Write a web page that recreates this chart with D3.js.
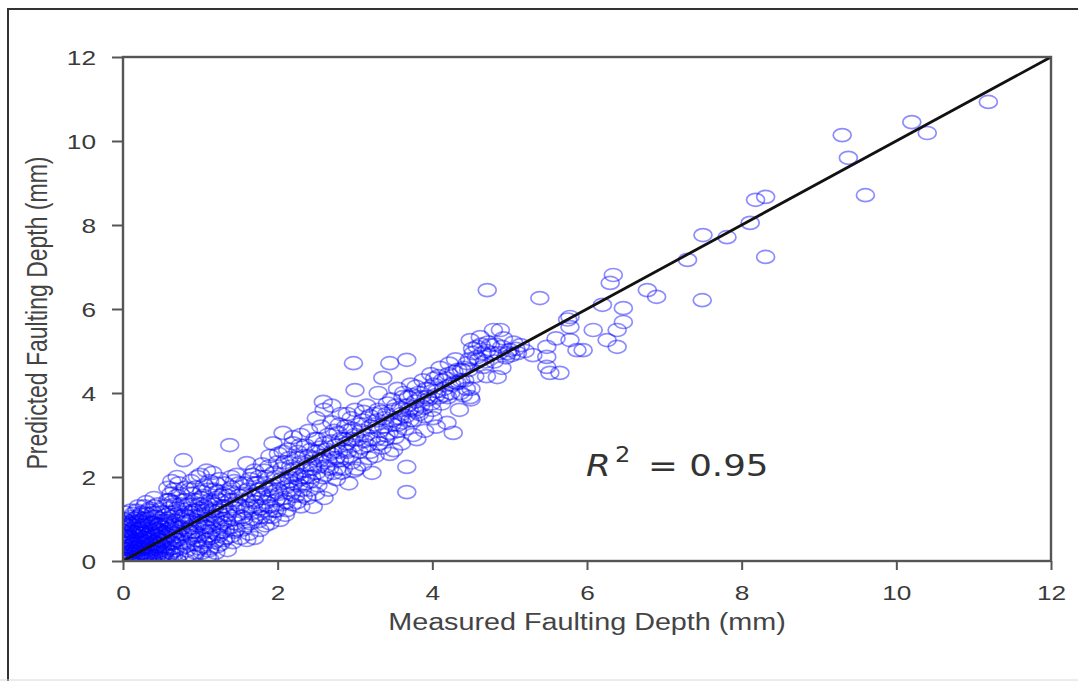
<!DOCTYPE html>
<html>
<head>
<meta charset="utf-8">
<script src="https://cdn.jsdelivr.net/npm/d3@7"></script>
<style>
  html, body { margin: 0; padding: 0; background: #fff; }
  svg { display: block; }
</style>
</head>
<body>
<svg id="chart" width="1078" height="681"></svg>
<script>
// ---------- data: [measured, predicted] in mm ----------
const pointsNearOrigin = [
  [0.02,0.05],[0.02,0.2],[0.03,0.35],[0.02,0.5],[0.04,0.65],[0.03,0.8],[0.05,0.95],[0.02,0.12],[0.05,0.28],[0.06,0.42],
  [0.08,0.05],[0.1,0.18],[0.09,0.3],[0.1,0.55],[0.12,0.7],[0.1,0.88],[0.11,1.05],[0.13,0.4],[0.14,0.15],[0.15,0.02],
  [0.18,0.25],[0.2,0.1],[0.19,0.45],[0.2,0.6],[0.22,0.78],[0.2,0.95],[0.23,1.1],[0.25,0.32],[0.24,0.5],[0.26,0.0],
  [0.3,0.15],[0.28,0.68],[0.3,0.85],[0.32,1.0],[0.33,1.2],[0.35,0.4],[0.34,0.55],[0.36,0.25],[0.38,0.05],[0.4,0.72],
  [0.4,0.9],[0.42,1.05],[0.41,1.3],[0.44,0.35],[0.45,0.5],[0.46,0.18],[0.48,0.62],[0.5,0.8],[0.5,1.15],[0.52,0.95],
  [0.05,0.1],[0.07,0.6],[0.12,0.25],[0.16,0.5],[0.17,0.85],[0.21,0.35],[0.27,0.2],[0.29,0.45],[0.31,0.6],[0.37,0.8],
  [0.39,0.3],[0.43,0.1],[0.47,0.4],[0.06,0.75],[0.15,0.3],[0.25,0.65],[0.33,0.12],[0.45,0.95],[0.08,1.0],[0.18,1.2],
  [0.28,1.3],[0.01,0.6],[0.01,0.9],[0.04,0.15],[0.09,0.45],[0.14,0.62],[0.22,0.18],[0.3,0.35],[0.36,0.7],[0.44,0.75],
  [0.0,0.3],[0.0,0.7],[0.0,1.0],[0.03,1.15],[0.06,0.22],[0.07,0.48],[0.08,0.82],[0.11,0.1],[0.12,0.38],[0.13,0.95],
  [0.14,0.78],[0.16,0.08],[0.17,0.22],[0.18,0.68],[0.19,1.05],[0.21,0.52],[0.22,0.9],[0.23,0.28],[0.24,0.05],[0.26,0.78],
  [0.27,1.0],[0.28,0.42],[0.29,0.12],[0.3,0.55],[0.31,1.12],[0.32,0.3],[0.33,0.75],[0.34,0.92],[0.35,0.08],[0.36,0.5],
  [0.37,1.05],[0.38,0.65],[0.39,0.2],[0.4,0.45],[0.41,0.82],[0.42,0.28],[0.43,0.6],[0.44,1.15],[0.46,0.72],[0.47,0.88],
  [0.48,0.25],[0.49,0.5],[0.5,0.08],[0.51,0.35],[0.52,0.68],[0.53,1.3],[0.54,0.2],[0.55,0.85],[0.56,1.1],[0.57,0.4],
  [0.58,0.62],[0.59,0.12],[0.6,0.5],[0.61,0.78],[0.62,1.05],[0.63,0.3],[0.64,1.4],[0.66,0.15],[0.67,0.58],[0.69,0.95],
  [0.1,1.2],[0.2,1.3],[0.3,1.4],[0.4,1.5],[0.15,1.0],[0.25,1.15],[0.35,1.25],[0.45,1.35],[0.05,0.55],[0.12,0.85],
  [0.01,0.05],[0.01,0.4],[0.03,0.58],[0.04,0.85],[0.06,0.05],[0.07,0.35],[0.09,0.7],[0.1,0.02],[0.11,0.5],[0.13,0.22],
  [0.15,0.45],[0.16,0.7],[0.17,0.1],[0.19,0.32],[0.21,0.75],[0.22,0.05],[0.23,0.42],[0.25,0.2],[0.26,0.55],[0.27,0.85],
  [0.29,0.3],[0.31,0.05],[0.32,0.48],[0.34,0.2],[0.35,0.65],[0.37,0.38],[0.38,0.9],[0.4,0.12],[0.41,0.58],[0.43,0.42],
  [0.45,0.22],[0.46,0.85],[0.48,0.05],[0.49,0.72],[0.51,0.48],[0.53,0.15],[0.54,0.58],[0.56,0.25],[0.58,0.95],[0.6,0.05],
  [0.62,0.7],[0.64,0.42],[0.65,0.85],[0.67,0.25],[0.68,0.5],[0.02,0.72],[0.07,0.9],[0.13,1.12],[0.24,0.95],[0.39,1.15]
];
const pointsLowBand = [
  [0.55,0.05],[0.55,0.3],[0.56,0.55],[0.58,0.75],[0.57,1.0],[0.6,1.25],[0.58,1.45],[0.58,1.74],[0.62,0.2],[0.63,0.45],
  [0.65,0.65],[0.66,0.9],[0.68,1.1],[0.67,1.35],[0.7,1.55],[0.7,0.02],[0.72,0.35],[0.74,0.58],[0.75,0.8],[0.76,1.0],
  [0.78,1.22],[0.78,2.4],[0.8,1.74],[0.8,1.45],[0.8,0.02],[0.82,0.25],[0.84,0.5],[0.85,0.7],[0.86,0.95],[0.88,1.15],
  [0.9,1.35],[0.9,1.6],[0.92,0.1],[0.94,0.4],[0.95,0.62],[0.96,0.85],[0.98,1.05],[1.0,1.25],[1.0,2.05],[1.0,1.5],
  [1.02,0.2],[1.04,0.45],[1.05,0.7],[1.06,0.92],[1.08,1.12],[1.09,0.1],[1.1,1.35],[1.1,1.7],[1.12,0.3],[1.14,0.55],
  [1.15,0.8],[1.16,1.0],[1.16,2.1],[1.18,1.25],[1.2,1.5],[1.2,1.85],[1.22,0.35],[1.24,0.6],[1.25,0.85],[1.26,1.1],
  [1.28,1.3],[1.3,1.6],[1.3,0.5],[1.32,0.75],[1.34,0.95],[1.35,0.26],[1.36,1.2],[1.38,1.45],[1.38,2.76],[1.4,1.75],
  [1.4,2.0],[1.42,0.45],[1.44,0.7],[1.45,0.9],[1.46,1.1],[1.47,2.05],[1.48,1.35],[1.5,1.55],[1.5,1.85],[1.52,0.55],
  [0.6,0.9],[0.65,1.15],[0.7,0.5],[0.75,1.35],[0.85,1.25],[0.9,0.8],[0.95,1.2],[1.0,0.9],[1.05,1.3],[1.1,0.6],
  [1.15,1.2],[1.2,0.9],[1.25,1.45],[1.3,1.0],[1.35,1.55],[1.45,1.25],[0.62,1.6],[0.72,1.85],[0.88,1.9],[1.05,1.8],
  [1.25,1.95],[1.12,0.05],[1.2,0.2],[0.98,0.3],[0.9,0.55],[0.68,0.8],[0.82,1.05],[1.08,0.8],[1.28,0.7],[1.42,1.0],
  [0.7,1.25],[0.71,0.7],[0.73,0.15],[0.74,1.05],[0.76,0.45],[0.77,0.65],[0.79,0.9],[0.8,1.1],[0.81,0.35],[0.83,0.75],
  [0.84,1.35],[0.85,0.15],[0.87,0.6],[0.88,0.4],[0.89,1.0],[0.91,1.2],[0.92,0.7],[0.93,1.45],[0.94,0.2],[0.96,0.5],
  [0.97,0.95],[0.99,1.35],[1.0,0.6],[1.01,1.1],[1.03,0.35],[1.04,1.55],[1.06,0.82],[1.07,1.2],[1.08,0.5],[1.1,1.0],
  [1.11,0.25],[1.13,1.45],[1.14,0.7],[1.17,1.35],[1.18,0.45],[1.19,1.05],[1.21,0.65],[1.22,1.65],[1.23,1.2],[1.26,0.4],
  [1.27,1.55],[1.29,0.9],[1.31,1.3],[1.33,0.55],[1.35,1.1],[1.37,0.8],[1.39,1.65],[1.41,0.6],[1.43,1.45],[1.46,0.75],
  [0.6,1.45],[0.66,1.7],[0.74,1.6],[0.86,1.7],[0.94,1.75],[1.02,1.65],[1.12,1.9],[1.18,1.7],[1.32,1.85],[1.44,1.9],
  [0.63,1.9],[0.7,2.0],[0.96,2.0],[1.08,2.15]
];
const pointsMidBand = [
  [1.55,0.75],[1.56,1.0],[1.58,1.2],[1.6,0.5],[1.6,2.33],[1.6,1.45],[1.62,1.7],[1.64,1.95],[1.65,0.9],[1.68,1.15],
  [1.7,1.4],[1.7,2.15],[1.72,1.6],[1.74,1.85],[1.75,0.95],[1.77,0.74],[1.78,1.25],[1.8,1.5],[1.8,2.3],[1.82,1.75],
  [1.85,2.0],[1.86,1.05],[1.88,1.3],[1.9,1.55],[1.9,2.5],[1.92,1.8],[1.94,2.8],[1.95,2.1],[1.96,1.2],[1.98,1.45],
  [2.0,1.7],[2.0,2.35],[2.03,0.98],[2.05,1.95],[2.06,2.2],[2.07,3.05],[2.07,2.6],[2.08,1.5],[2.1,1.75],[2.12,1.21],
  [2.14,2.0],[2.15,2.45],[2.18,1.6],[2.2,2.8],[2.2,1.85],[2.22,2.2],[2.25,1.4],[2.26,2.6],[2.28,1.95],[2.3,2.35],
  [2.32,1.7],[2.35,2.15],[2.36,2.75],[2.38,1.5],[2.4,2.5],[2.42,1.9],[2.45,2.3],[2.46,1.29],[2.48,2.9],[2.5,2.1],
  [2.5,2.6],[2.52,1.8],[2.55,2.4],[2.56,3.2],[2.58,2.0],[2.59,3.79],[2.6,2.8],[2.62,2.25],[2.65,3.0],[2.66,1.7],
  [2.68,2.55],[2.7,3.3],[2.72,2.1],[2.75,2.75],[2.76,1.95],[2.78,3.05],[2.8,2.4],[2.82,3.5],[2.85,2.2],[2.86,2.9],
  [2.88,3.2],[2.9,2.6],[2.92,1.85],[2.95,3.4],[2.96,2.35],[2.98,2.75],[3.0,3.0],[3.0,4.07],[3.0,3.6],[2.98,4.71],
  [1.55,1.6],[1.65,1.3],[1.75,1.7],[1.85,1.4],[1.95,1.65],[2.05,1.35],[2.15,1.9],[2.25,2.05],[2.35,1.85],[2.45,2.2],
  [2.55,2.7],[2.65,2.4],[2.75,2.45],[2.85,2.65],[2.95,2.9],[1.7,0.55],[1.9,0.9],[2.1,1.1],[2.3,1.3],[2.6,1.5],
  [1.52,1.3],[1.54,1.05],[1.57,1.85],[1.59,0.85],[1.61,1.25],[1.63,0.65],[1.66,1.55],[1.67,2.05],[1.69,1.0],[1.71,1.85],
  [1.73,1.3],[1.76,2.0],[1.78,1.05],[1.79,1.6],[1.81,1.2],[1.83,2.15],[1.84,0.85],[1.87,1.7],[1.89,2.25],[1.91,1.3],
  [1.93,1.05],[1.97,2.0],[1.99,1.2],[2.01,2.55],[2.02,1.6],[2.04,1.85],[2.09,2.35],[2.11,1.4],[2.13,2.65],[2.16,1.7],
  [2.17,2.25],[2.19,1.35],[2.21,2.05],[2.23,1.55],[2.24,2.45],[2.27,1.8],[2.29,2.75],[2.31,2.0],[2.33,1.55],[2.34,2.5],
  [2.37,2.0],[2.39,2.3],[2.41,1.7],[2.43,2.65],[2.44,2.0],[2.47,2.45],[2.49,1.6],[2.51,2.9],[2.53,2.25],[2.57,2.5],
  [2.61,2.05],[2.63,2.65],[2.67,2.2],[2.69,2.85],[2.71,2.6],[2.73,3.1],[2.77,2.2],[2.79,2.6],[2.81,2.9],[2.83,2.1],
  [2.87,2.45],[2.89,2.8],[2.91,3.1],[2.93,2.5],[2.97,3.15],[2.99,2.15],[2.4,3.1],[2.3,3.0],[2.2,2.95],[2.5,3.4],
  [2.6,3.6],[2.7,3.7],[2.8,3.25],[2.9,3.5]
];
const pointsHighBand = [
  [3.02,2.2],[3.05,2.6],[3.08,3.1],[3.1,3.35],[3.12,2.85],[3.15,3.7],[3.18,2.45],[3.2,3.2],[3.22,2.1],[3.25,3.5],
  [3.28,2.9],[3.3,4.0],[3.32,3.1],[3.35,2.7],[3.36,4.36],[3.38,3.4],[3.4,3.0],[3.42,3.75],[3.45,4.71],[3.45,2.55],
  [3.48,3.25],[3.5,2.64],[3.5,3.6],[3.52,2.95],[3.55,4.1],[3.58,3.4],[3.6,3.5],[3.6,2.8],[3.62,3.9],[3.65,3.15],
  [3.67,4.79],[3.67,2.24],[3.67,1.64],[3.68,3.7],[3.7,3.6],[3.72,4.2],[3.75,3.35],[3.78,3.8],[3.8,2.9],[3.8,3.55],
  [3.82,4.0],[3.85,3.7],[3.88,4.3],[3.9,3.45],[3.92,4.1],[3.95,3.85],[3.98,4.45],[4.0,3.6],[4.01,3.4],[4.02,4.2],
  [4.05,3.95],[4.08,4.4],[4.1,4.6],[4.12,3.75],[4.15,4.1],[4.18,4.35],[4.19,3.29],[4.2,3.9],[4.22,4.7],[4.25,4.2],
  [4.27,3.05],[4.28,4.5],[4.3,4.8],[4.32,4.24],[4.35,3.6],[4.36,4.0],[4.38,4.55],[4.4,3.95],[4.42,4.3],[4.45,4.71],
  [4.49,3.9],[4.5,4.1],[4.5,3.85],[3.55,3.1],[3.75,3.0],[3.9,3.1],[4.05,3.2],[3.3,3.6],[3.2,2.6],[3.1,2.3],
  [3.03,2.9],[3.06,3.25],[3.09,2.7],[3.11,3.55],[3.14,3.0],[3.16,2.75],[3.19,3.45],[3.21,2.9],[3.24,3.25],[3.26,2.5],
  [3.29,3.35],[3.31,2.8],[3.34,3.55],[3.37,3.2],[3.39,2.9],[3.41,3.5],[3.44,3.05],[3.47,3.85],[3.49,3.35],[3.53,3.7],
  [3.56,3.25],[3.59,3.65],[3.61,3.3],[3.63,4.0],[3.66,3.45],[3.69,3.9],[3.71,3.35],[3.74,3.95],[3.77,3.6],[3.79,4.15],
  [3.83,3.5],[3.86,3.9],[3.89,3.65],[3.93,3.9],[3.96,4.1],[3.99,3.75],[4.03,4.35],[4.06,4.05],[4.09,3.9],[4.13,4.3],
  [4.16,3.95],[4.21,4.45],[4.24,4.0],[4.29,4.25],[4.33,4.55],[4.37,4.3],[4.41,4.6],[4.44,4.1],[4.47,4.55],[4.48,4.8]
];
const pointsUpper = [
  [4.53,4.95],[4.62,5.33],[4.49,5.26],[4.66,4.62],[4.75,5.14],[4.79,5.5],[4.88,5.5],[4.84,4.38],[4.71,6.45],[5.0,5.02],
  [5.1,4.95],[5.14,5.14],[5.39,6.26],[5.48,5.1],[5.48,4.86],[5.48,4.62],[5.52,4.48],[5.65,4.48],[5.78,5.81],[5.78,5.57],
  [5.78,5.26],[5.87,5.02],[5.95,5.02],[6.08,5.5],[6.26,5.26],[6.39,5.1],[6.39,5.5],[6.47,5.69],[6.47,6.02],[6.3,6.62],
  [6.34,6.81],[6.78,6.45],[6.9,6.29],[4.6,4.8],[4.7,5.0],[4.55,4.4],[4.65,4.95],[4.8,4.75],[4.9,5.1],[4.95,4.85],
  [5.05,5.2],[5.2,5.0],[5.3,4.9],[4.9,4.6],[4.58,5.1],[4.7,4.4],[5.75,5.75],[6.2,6.1],[5.6,5.3],
  [4.52,5.05],[4.57,4.85],[4.63,5.15],[4.68,4.75],[4.72,5.2],[4.77,4.95],[4.82,5.15],[4.86,4.95],[4.92,5.3],[4.97,4.95],
  [5.02,4.9],[5.08,5.05],
  [7.49,6.21],[7.3,7.17],[7.5,7.76],[7.81,7.71],[8.11,8.05],[8.31,7.24],[8.18,8.6],[8.31,8.67],[9.6,8.71],[9.38,9.6],
  [9.3,10.14],[10.2,10.45],[10.4,10.19],[11.19,10.93]
];
const points = [].concat(pointsNearOrigin, pointsLowBand, pointsMidBand, pointsHighBand, pointsUpper);

const xTicks = [0, 2, 4, 6, 8, 10, 12];
const yTicks = [0, 2, 4, 6, 8, 10, 12];
const xLabel = "Measured Faulting Depth (mm)";
const yLabel = "Predicted Faulting Depth (mm)";
const domainMax = 12;

// ---------- layout ----------
const plot = { left: 123, right: 1051, top: 57, bottom: 561 };
const stretch = 1.25;
const svg = d3.select("#chart");

svg.append("rect").attr("width", 1078).attr("height", 681).attr("fill", "#fff");
// outer frame
svg.append("path").attr("d", "M8,681 L8,9 L1078,9").attr("fill", "none").attr("stroke", "#333").attr("stroke-width", 2);
svg.append("line").attr("x1", 0).attr("x2", 1078).attr("y1", 680).attr("y2", 680).attr("stroke", "#d8d8d8").attr("stroke-width", 1);

const x = d3.scaleLinear().domain([0, domainMax]).range([plot.left, plot.right]);
const y = d3.scaleLinear().domain([0, domainMax]).range([plot.bottom, plot.top]);

const defs = svg.append("defs");
defs.append("clipPath").attr("id", "clip")
  .append("rect").attr("x", plot.left).attr("y", plot.top)
  .attr("width", plot.right - plot.left).attr("height", plot.bottom - plot.top);
defs.append("filter").attr("id", "soft").attr("x", "-5%").attr("y", "-5%").attr("width", "110%").attr("height", "110%")
  .append("feGaussianBlur").attr("stdDeviation", 0.6);

// points
svg.append("g").attr("clip-path", "url(#clip)")
  .append("g").attr("filter", "url(#soft)")
  .selectAll("ellipse").data(points).join("ellipse")
  .attr("cx", d => x(d[0])).attr("cy", d => y(d[1]))
  .attr("rx", 9).attr("ry", 6.5)
  .attr("fill", "none").attr("stroke", "#0000ff")
  .attr("stroke-opacity", 0.45).attr("stroke-width", 1.7);

// 1:1 line
svg.append("line")
  .attr("x1", x(0)).attr("y1", y(0)).attr("x2", x(domainMax)).attr("y2", y(domainMax))
  .attr("stroke", "#111").attr("stroke-width", 2.8);

// frame of axes
svg.append("rect").attr("x", plot.left).attr("y", plot.top)
  .attr("width", plot.right - plot.left).attr("height", plot.bottom - plot.top)
  .attr("fill", "none").attr("stroke", "#555").attr("stroke-width", 2.4);

// axes
const xAxis = svg.append("g").attr("transform", `translate(0,${plot.bottom})`)
  .call(d3.axisBottom(x).tickValues(xTicks).tickSize(9).tickSizeOuter(0).tickFormat(d3.format("d")));
const yAxis = svg.append("g").attr("transform", `translate(${plot.left},0)`)
  .call(d3.axisLeft(y).tickValues(yTicks).tickSize(11).tickSizeOuter(0).tickFormat(d3.format("d")));
[xAxis, yAxis].forEach(g => {
  g.select(".domain").remove();
  g.selectAll(".tick line").attr("stroke", "#555").attr("stroke-width", 2);
});
xAxis.selectAll(".tick text").each(function() {
  const t = d3.select(this);
  t.attr("y", null).attr("dy", null)
    .attr("transform", `translate(0,39) scale(${stretch},1)`)
    .attr("font-family", "Liberation Sans, Arial, sans-serif").attr("font-size", 21)
    .attr("fill", "#3a3a3a").attr("text-anchor", "middle");
});
yAxis.selectAll(".tick text").each(function() {
  const t = d3.select(this);
  t.attr("x", null).attr("dy", null)
    .attr("transform", `translate(-27,7.5) scale(${stretch},1)`)
    .attr("font-family", "Liberation Sans, Arial, sans-serif").attr("font-size", 21)
    .attr("fill", "#3a3a3a").attr("text-anchor", "end");
});

// axis labels
svg.append("text").text(xLabel)
  .attr("transform", `translate(${(plot.left + plot.right) / 2},630) scale(${stretch},1)`)
  .attr("text-anchor", "middle").attr("font-family", "Liberation Sans, Arial, sans-serif")
  .attr("font-size", 23).attr("fill", "#444");
svg.append("text").text(yLabel)
  .attr("transform", `translate(47,${(plot.top + plot.bottom) / 2 + 4}) scale(${stretch},1) rotate(-90)`)
  .attr("text-anchor", "middle").attr("font-family", "Liberation Sans, Arial, sans-serif")
  .attr("font-size", 23).attr("fill", "#444");

// R^2 annotation
const ann = svg.append("g").attr("fill", "#333").attr("font-family", "DejaVu Sans, sans-serif");
ann.append("text").text("R").attr("transform", "translate(586,476) scale(1.15,1)")
  .attr("font-size", 31).attr("font-style", "italic");
ann.append("text").text("2").attr("transform", "translate(615,462) scale(1.15,1)")
  .attr("font-size", 21);
ann.append("text").text("= 0.95").attr("transform", "translate(648,476) scale(1.15,1)")
  .attr("font-size", 31);
</script>
</body>
</html>
